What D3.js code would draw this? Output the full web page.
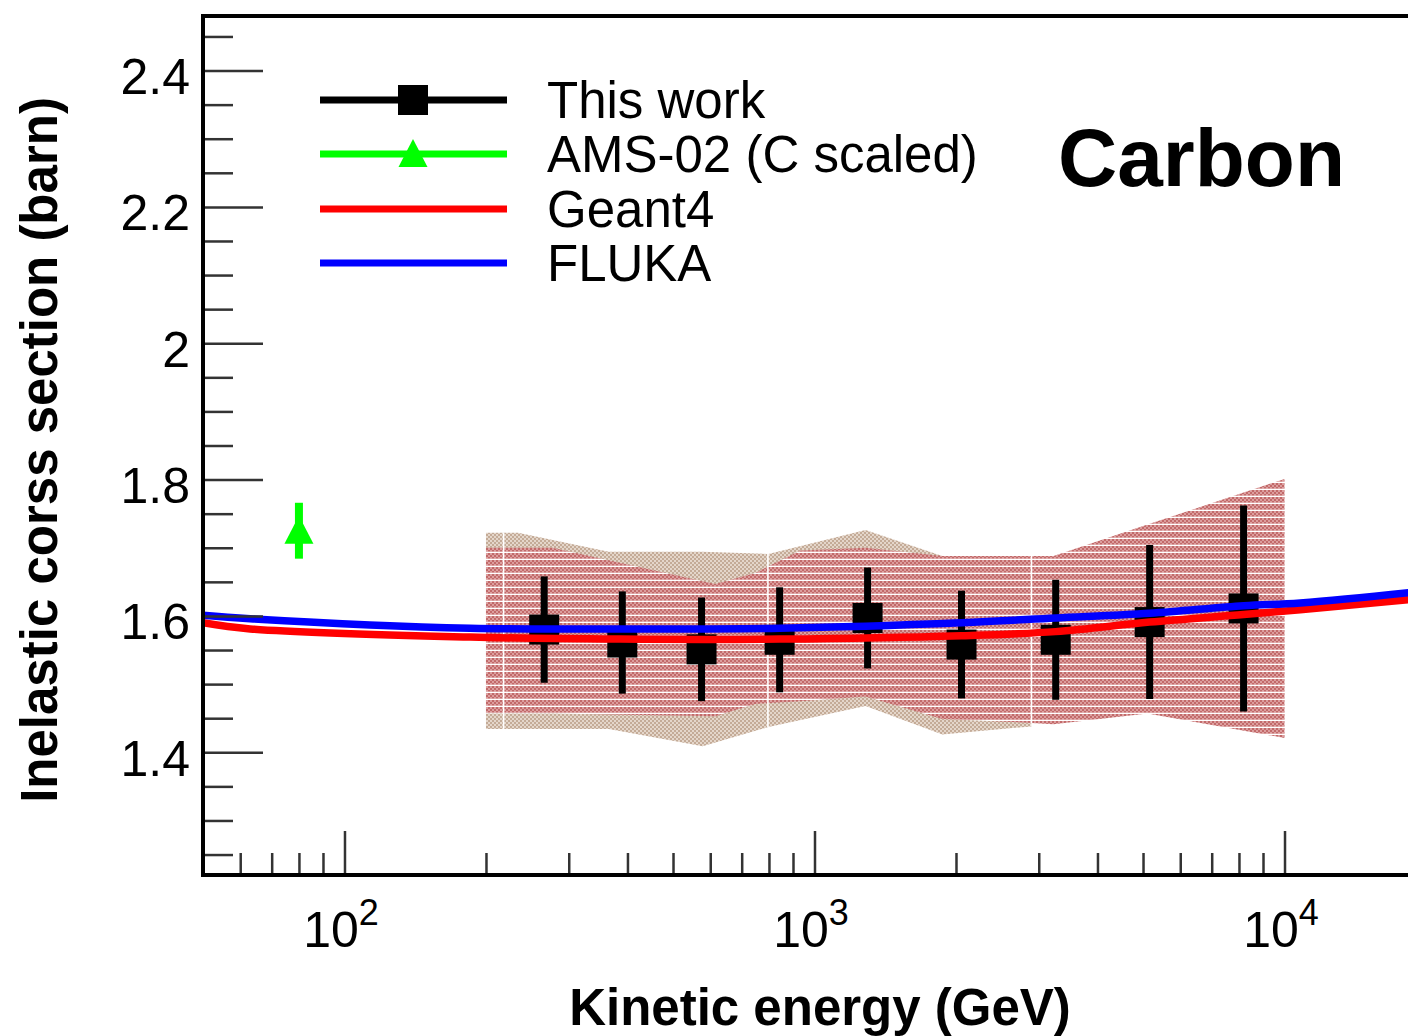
<!DOCTYPE html>
<html>
<head>
<meta charset="utf-8">
<script src="https://cdn.jsdelivr.net/npm/d3@7"></script>
<style>
  body { margin: 0; background: #fff; }
  text { font-family: "Liberation Sans", Arial, Helvetica, sans-serif; fill: #000; }
</style>
</head>
<body>
<svg id="chart" width="1408" height="1036"></svg>
<script>
// This work: measured points (GeV, barn)
var energy = [266, 390, 575, 843, 1297, 2055, 3260, 5165, 8183];
var sigma = [1.580, 1.561, 1.551, 1.565, 1.597, 1.558, 1.565, 1.591, 1.611];
var sigmaErr = [0.078, 0.075, 0.076, 0.077, 0.074, 0.079, 0.088, 0.113, 0.151];

// AMS-02 (C scaled)
var amsEnergy = [80];
var amsSigma = [1.725];
var amsErr = [0.041];

// model curves
var modelEnergy = [50, 63, 185, 386, 843, 2055, 3260, 5165, 8183, 10800, 18370, 20000];
var geant4 = [1.590, 1.581, 1.569, 1.566, 1.566, 1.571, 1.577, 1.591, 1.602, 1.609, 1.624, 1.627];
var fluka = [1.601, 1.596, 1.582, 1.581, 1.582, 1.590, 1.597, 1.604, 1.615, 1.619, 1.634, 1.637];

// systematic bands
var tanEnergy = [200, 234, 365, 578, 798, 1284, 1871, 2895];
var tanHi = [1.722, 1.722, 1.694, 1.694, 1.691, 1.726, 1.688, 1.688];
var tanLo = [1.434, 1.434, 1.434, 1.409, 1.437, 1.468, 1.426, 1.438];

var redEnergy = [200, 277, 615, 748, 933, 1284, 1871, 2895, 3225, 5111, 10000];
var redHi = [1.700, 1.700, 1.647, 1.663, 1.696, 1.700, 1.688, 1.688, 1.688, 1.734, 1.801];
var redLo = [1.457, 1.457, 1.453, 1.471, 1.475, 1.482, 1.449, 1.443, 1.441, 1.457, 1.421];

var seamEnergy = [218, 796, 2895];

var legendLabels = ['This work', 'AMS-02 (C scaled)', 'Geant4', 'FLUKA'];
var yTickLabels = [1.4, 1.6, 1.8, 2, 2.2, 2.4];

var svg = d3.select('#chart');

var x = d3.scaleLog().domain([50, 20000]).range([203, 1426]);
var y = d3.scaleLinear().domain([1.22, 2.48]).range([875, 16]);

var defs = svg.append('defs');

defs.append('clipPath').attr('id', 'plotClip')
  .append('rect')
    .attr('x', 203).attr('y', 16)
    .attr('width', 1426 - 203).attr('height', 875 - 16);

// hatch-like fills
var tanPat = defs.append('pattern')
    .attr('id', 'tanFill')
    .attr('patternUnits', 'userSpaceOnUse')
    .attr('width', 4).attr('height', 4);
tanPat.append('rect').attr('width', 4).attr('height', 4).attr('fill', '#e4d6ca');
tanPat.append('rect').attr('x', 0).attr('y', 0).attr('width', 2).attr('height', 2).attr('fill', '#c4ab97');
tanPat.append('rect').attr('x', 2).attr('y', 2).attr('width', 2).attr('height', 2).attr('fill', '#c4ab97');

var redPat = defs.append('pattern')
    .attr('id', 'redFill')
    .attr('patternUnits', 'userSpaceOnUse')
    .attr('width', 4).attr('height', 7);
redPat.append('rect').attr('width', 4).attr('height', 7).attr('fill', '#dc9e9e');
redPat.append('rect').attr('x', 0).attr('y', 0).attr('width', 2).attr('height', 2).attr('fill', '#c26a6a');
redPat.append('rect').attr('x', 2).attr('y', 2).attr('width', 2).attr('height', 2).attr('fill', '#c26a6a');
redPat.append('rect').attr('x', 0).attr('y', 4).attr('width', 2).attr('height', 1.5).attr('fill', '#c26a6a');
redPat.append('rect').attr('x', 0).attr('y', 5.8).attr('width', 4).attr('height', 1.2).attr('fill', '#ffffff');

var plot = svg.append('g').attr('clip-path', 'url(#plotClip)');

function band(es, hi, lo) {
  var pts = es.map(function(e, i) { return {e: e, hi: hi[i], lo: lo[i]}; });
  return d3.area()
      .x(function(d) { return x(d.e); })
      .y0(function(d) { return y(d.lo); })
      .y1(function(d) { return y(d.hi); })(pts);
}

var tanPath = band(tanEnergy, tanHi, tanLo);
var redPath = band(redEnergy, redHi, redLo);

plot.append('path').attr('d', tanPath).attr('fill', 'url(#tanFill)');
plot.append('path').attr('d', redPath).attr('fill', 'url(#redFill)');

// white seams between band segments, only inside the bands
var seamClip = defs.append('clipPath').attr('id', 'seamClip');
seamClip.append('path').attr('d', tanPath);
seamClip.append('path').attr('d', redPath);
plot.append('g').attr('clip-path', 'url(#seamClip)')
  .selectAll('line').data(seamEnergy)
  .enter().append('line')
    .attr('x1', function(d) { return x(d); })
    .attr('x2', function(d) { return x(d); })
    .attr('y1', 16).attr('y2', 875)
    .attr('stroke', '#fff')
    .attr('stroke-width', 1.6);

// this work: error bars + square markers
var pts = energy.map(function(e, i) { return {e: e, s: sigma[i], err: sigmaErr[i]}; });
plot.selectAll('line.err').data(pts)
  .enter().append('line')
    .attr('class', 'err')
    .attr('x1', function(d) { return x(d.e); })
    .attr('x2', function(d) { return x(d.e); })
    .attr('y1', function(d) { return y(d.s + d.err); })
    .attr('y2', function(d) { return y(d.s - d.err); })
    .attr('stroke', '#000')
    .attr('stroke-width', 7);
plot.selectAll('rect.pt').data(pts)
  .enter().append('rect')
    .attr('class', 'pt')
    .attr('x', function(d) { return x(d.e) - 15; })
    .attr('y', function(d) { return y(d.s) - 15; })
    .attr('width', 30).attr('height', 30)
    .attr('fill', '#000');

// model curves drawn above the markers
var line = d3.line()
    .x(function(d) { return x(d.e); })
    .y(function(d) { return y(d.v); })
    .curve(d3.curveCatmullRom.alpha(0.5));

plot.append('path')
    .attr('d', line(modelEnergy.map(function(e, i) { return {e: e, v: geant4[i]}; })))
    .attr('fill', 'none').attr('stroke', '#ff0000').attr('stroke-width', 7.5);
plot.append('path')
    .attr('d', line(modelEnergy.map(function(e, i) { return {e: e, v: fluka[i]}; })))
    .attr('fill', 'none').attr('stroke', '#0000ff').attr('stroke-width', 7.5);

// AMS-02
var ams = amsEnergy.map(function(e, i) { return {e: e, s: amsSigma[i], err: amsErr[i]}; });
plot.selectAll('line.ams').data(ams)
  .enter().append('line')
    .attr('class', 'ams')
    .attr('x1', function(d) { return x(d.e); })
    .attr('x2', function(d) { return x(d.e); })
    .attr('y1', function(d) { return y(d.s + d.err); })
    .attr('y2', function(d) { return y(d.s - d.err); })
    .attr('stroke', '#00ff00')
    .attr('stroke-width', 8);

function triangle(cx, cy) {
  return 'M' + cx + ',' + (cy - 15) + 'L' + (cx + 14.5) + ',' + (cy + 13) + 'L' + (cx - 14.5) + ',' + (cy + 13) + 'Z';
}
plot.selectAll('path.ams').data(ams)
  .enter().append('path')
    .attr('class', 'ams')
    .attr('d', function(d) { return triangle(x(d.e), y(d.s)); })
    .attr('fill', '#00ff00');

// axes
var yMinor = d3.range(1.25, 2.47, 0.05).filter(function(v) {
  return Math.abs(Math.round(v * 5) - v * 5) > 1e-6;
});
svg.append('g')
    .attr('transform', 'translate(203,0)')
    .call(d3.axisLeft(y).tickValues(yMinor).tickSize(-30).tickFormat(''))
    .call(function(g) { g.select('.domain').remove(); });
var yAxis = svg.append('g')
    .attr('transform', 'translate(203,0)')
    .call(d3.axisLeft(y).tickValues(yTickLabels).tickSize(-60).tickPadding(13)
      .tickFormat(function(d) { return d3.format('')(d); }))
    .call(function(g) { g.select('.domain').remove(); });
yAxis.selectAll('text')
    .attr('font-size', 50)
    .attr('dy', '0.46em');

var xMinor = [];
[10, 100, 1000, 10000].forEach(function(dec) {
  for (var k = 2; k <= 9; k++) {
    var v = dec * k;
    if (v > 50 && v < 20000) xMinor.push(v);
  }
});
svg.append('g')
    .attr('transform', 'translate(0,875)')
    .call(d3.axisBottom(x).tickValues(xMinor).tickSize(-22).tickFormat(''))
    .call(function(g) { g.select('.domain').remove(); });
var xAxis = svg.append('g')
    .attr('transform', 'translate(0,875)')
    .call(d3.axisBottom(x).tickValues([100, 1000, 10000]).tickSize(-44).tickFormat(''))
    .call(function(g) { g.select('.domain').remove(); });

svg.selectAll('.tick line')
    .attr('stroke', '#333')
    .attr('stroke-width', 2.5);

xAxis.selectAll('.tick').append('text')
    .attr('text-anchor', 'middle')
    .attr('x', -4)
    .attr('y', 72)
    .attr('font-size', 50)
    .each(function(d) {
      var t = d3.select(this);
      t.append('tspan').text('10');
      t.append('tspan')
          .attr('font-size', 36)
          .attr('dy', -22)
          .text(String(Math.round(Math.log10(d))));
    });

// frame
svg.append('rect')
    .attr('x', 203).attr('y', 16)
    .attr('width', 1426 - 203).attr('height', 875 - 16)
    .attr('fill', 'none')
    .attr('stroke', '#000')
    .attr('stroke-width', 4);

// axis titles
svg.append('text')
    .attr('x', 820)
    .attr('y', 1025)
    .attr('text-anchor', 'middle')
    .attr('font-size', 51)
    .attr('font-weight', 'bold')
    .text('Kinetic energy (GeV)');

svg.append('text')
    .attr('transform', 'translate(57,450) rotate(-90)')
    .attr('text-anchor', 'middle')
    .attr('font-size', 51)
    .attr('font-weight', 'bold')
    .text('Inelastic corss section (barn)');

svg.append('text')
    .attr('x', 1058)
    .attr('y', 186)
    .attr('font-size', 82)
    .attr('font-weight', 'bold')
    .text('Carbon');

// legend
var rowY = [100, 154, 209, 263];
var rowColor = ['#000', '#00ff00', '#ff0000', '#0000ff'];
var legend = svg.append('g');
legend.selectAll('line').data(legendLabels)
  .enter().append('line')
    .attr('x1', 320).attr('x2', 507)
    .attr('y1', function(d, i) { return rowY[i]; })
    .attr('y2', function(d, i) { return rowY[i]; })
    .attr('stroke', function(d, i) { return rowColor[i]; })
    .attr('stroke-width', 7);
legend.append('rect')
    .attr('x', 398).attr('y', rowY[0] - 15)
    .attr('width', 30).attr('height', 30)
    .attr('fill', '#000');
legend.append('path')
    .attr('d', triangle(413, rowY[1]))
    .attr('fill', '#00ff00');
legend.selectAll('text').data(legendLabels)
  .enter().append('text')
    .attr('x', 547)
    .attr('y', function(d, i) { return rowY[i] + 18; })
    .attr('font-size', 51)
    .text(function(d) { return d; });
</script>
</body>
</html>
